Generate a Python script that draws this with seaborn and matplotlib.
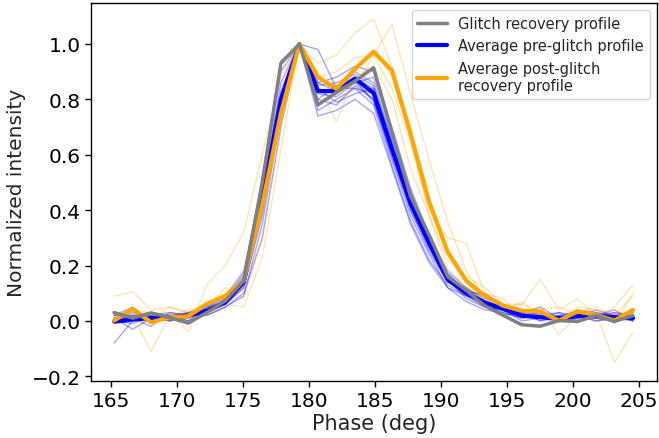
import matplotlib
matplotlib.use("Agg")
import matplotlib.pyplot as plt
import seaborn as sns
import pandas as pd

phase = [165.20, 166.61, 168.01, 169.42, 170.83, 172.23, 173.64, 175.04, 176.45, 177.86,
         179.26, 180.67, 182.08, 183.48, 184.89, 186.29, 187.70, 189.11, 190.51, 191.92,
         193.33, 194.73, 196.14, 197.54, 198.95, 200.36, 201.76, 203.17, 204.58]

glitch_recovery = [0.030, 0.010, 0.029, 0.012, -0.008, 0.030, 0.072, 0.145, 0.500, 0.930,
                   1.000, 0.780, 0.826, 0.866, 0.914, 0.680, 0.450, 0.310, 0.160, 0.110,
                   0.055, 0.020, -0.014, -0.019, 0.001, -0.002, 0.019, -0.002, 0.019]

avg_pre = [-0.002, 0.005, 0.010, 0.013, 0.019, 0.037, 0.067, 0.140, 0.440, 0.800,
           1.000, 0.830, 0.830, 0.875, 0.823, 0.620, 0.425, 0.280, 0.150, 0.100,
           0.067, 0.043, 0.019, 0.013, 0.010, 0.017, 0.019, 0.013, 0.010]

avg_post = [0.001, 0.043, -0.005, 0.013, 0.017, 0.060, 0.090, 0.146, 0.420, 0.750,
            1.000, 0.880, 0.838, 0.910, 0.972, 0.904, 0.675, 0.430, 0.250, 0.145,
            0.091, 0.055, 0.037, 0.034, 0.001, 0.034, 0.022, 0.001, 0.040]

pre_profiles = [
    [-0.08, 0.00, 0.02, 0.00, 0.02, 0.03, 0.06, 0.12, 0.38, 0.76, 1.0, 0.80, 0.78, 0.85, 0.80, 0.58, 0.38, 0.24, 0.12, 0.09, 0.06, 0.05, 0.03, 0.00, 0.01, 0.02, 0.03, 0.01, 0.00],
    [0.02, 0.05, 0.00, 0.02, 0.03, 0.05, 0.08, 0.16, 0.52, 0.94, 1.0, 0.76, 0.80, 0.84, 0.78, 0.56, 0.36, 0.22, 0.13, 0.09, 0.05, 0.04, 0.02, 0.01, 0.03, 0.00, 0.02, 0.03, 0.01],
    [0.01, -0.03, 0.01, 0.02, 0.00, 0.04, 0.07, 0.15, 0.47, 0.86, 1.0, 0.98, 0.84, 0.90, 0.86, 0.66, 0.47, 0.30, 0.17, 0.11, 0.07, 0.02, 0.03, 0.05, 0.01, 0.00, 0.01, 0.03, 0.02],
    [0.00, 0.01, -0.02, 0.03, 0.02, 0.02, 0.05, 0.10, 0.30, 0.70, 1.0, 0.86, 0.88, 0.92, 0.90, 0.70, 0.48, 0.31, 0.18, 0.12, 0.08, 0.06, 0.02, 0.01, 0.00, 0.03, 0.01, 0.00, 0.02],
    [0.03, 0.02, 0.03, 0.00, 0.01, 0.04, 0.06, 0.14, 0.45, 0.82, 1.0, 0.74, 0.76, 0.80, 0.75, 0.55, 0.35, 0.21, 0.12, 0.07, 0.04, 0.03, 0.01, 0.02, 0.03, 0.02, 0.00, 0.01, 0.03],
    [-0.01, 0.00, 0.02, 0.01, 0.03, 0.03, 0.08, 0.17, 0.48, 0.83, 1.0, 0.85, 0.86, 0.89, 0.85, 0.64, 0.44, 0.29, 0.16, 0.11, 0.09, 0.05, 0.04, 0.02, 0.01, 0.04, 0.03, 0.02, 0.00],
    [0.02, 0.03, 0.01, 0.02, 0.00, 0.05, 0.09, 0.18, 0.50, 0.90, 1.0, 0.82, 0.81, 0.86, 0.80, 0.60, 0.40, 0.26, 0.14, 0.10, 0.10, 0.06, 0.03, 0.00, 0.02, 0.01, 0.04, 0.02, 0.01],
    [0.00, -0.01, 0.02, 0.03, 0.02, 0.02, 0.05, 0.09, 0.35, 0.74, 1.0, 0.88, 0.84, 0.84, 0.82, 0.63, 0.43, 0.28, 0.16, 0.10, 0.06, 0.03, 0.01, 0.02, 0.00, 0.01, 0.02, 0.04, 0.00],
    [0.01, 0.02, 0.00, 0.01, 0.03, 0.04, 0.07, 0.13, 0.42, 0.79, 1.0, 0.80, 0.85, 0.88, 0.84, 0.65, 0.44, 0.27, 0.15, 0.08, 0.05, 0.04, 0.00, 0.01, 0.02, 0.03, 0.01, 0.00, 0.02],
    [0.02, 0.00, 0.01, 0.00, 0.02, 0.03, 0.06, 0.15, 0.46, 0.81, 1.0, 0.78, 0.82, 0.87, 0.79, 0.59, 0.40, 0.25, 0.14, 0.12, 0.07, 0.05, 0.02, 0.03, 0.01, 0.02, 0.00, 0.01, 0.02],
    [0.01, 0.01, 0.03, 0.02, 0.01, 0.05, 0.07, 0.14, 0.44, 0.80, 1.0, 0.84, 0.79, 0.82, 0.84, 0.62, 0.41, 0.27, 0.15, 0.10, 0.06, 0.04, 0.03, 0.02, 0.01, 0.00, 0.02, 0.01, 0.02],
    [0.00, 0.02, 0.01, 0.01, 0.02, 0.04, 0.06, 0.12, 0.40, 0.78, 1.0, 0.86, 0.83, 0.86, 0.88, 0.68, 0.46, 0.30, 0.17, 0.11, 0.07, 0.05, 0.02, 0.01, 0.00, 0.02, 0.01, 0.02, 0.03],
]

post_profiles = [
    [0.09, 0.105, 0.04, 0.05, 0.03, 0.07, 0.10, 0.13, 0.40, 0.78, 1.0, 0.93, 0.96, 1.04, 1.09, 0.92, 0.70, 0.42, 0.24, 0.14, 0.07, 0.04, 0.06, 0.03, 0.00, 0.05, 0.04, -0.01, 0.10],
    [0.03, 0.02, -0.11, 0.02, 0.04, 0.05, 0.12, 0.08, 0.30, 0.70, 1.0, 0.88, 0.90, 0.95, 0.96, 1.07, 0.82, 0.58, 0.36, 0.18, 0.09, 0.06, 0.02, 0.04, 0.05, 0.02, 0.03, -0.15, -0.04],
    [0.00, 0.01, 0.02, 0.03, -0.04, 0.13, 0.20, 0.32, 0.60, 0.88, 1.0, 0.85, 0.72, 0.88, 0.92, 0.80, 0.55, 0.38, 0.22, 0.16, 0.12, 0.06, 0.06, 0.15, 0.04, 0.08, 0.02, 0.05, 0.13],
    [0.02, 0.04, 0.03, 0.00, 0.01, 0.02, 0.06, 0.05, 0.23, 0.62, 1.0, 0.90, 0.80, 0.84, 0.96, 0.84, 0.64, 0.40, 0.30, 0.28, 0.10, 0.08, 0.01, 0.05, -0.05, 0.02, 0.00, 0.03, 0.03],
    [-0.01, 0.03, 0.01, 0.05, 0.03, 0.04, 0.07, 0.12, 0.45, 0.82, 1.0, 0.84, 0.82, 0.90, 0.98, 0.88, 0.66, 0.38, 0.19, 0.12, 0.08, 0.04, 0.07, 0.02, 0.00, 0.03, 0.05, 0.02, 0.09],
]

sns.set_theme(style="ticks")
plt.rcParams['font.family'] = ['DejaVu Sans']

fig = plt.figure(figsize=(6.59, 4.39), dpi=100)
ax = fig.add_axes([91 / 659, 57 / 439, 566 / 659, 378 / 439])

for prof in pre_profiles:
    sns.lineplot(x=phase, y=prof, ax=ax, color="blue", alpha=0.35, lw=1, zorder=1)
for prof in post_profiles:
    sns.lineplot(x=phase, y=prof, ax=ax, color="orange", alpha=0.3, lw=1, zorder=1)

sns.lineplot(x=phase, y=avg_pre, ax=ax, color="blue", lw=3, zorder=3,
             label="Average pre-glitch profile")
sns.lineplot(x=phase, y=avg_post, ax=ax, color="orange", lw=3, zorder=4,
             label="Average post-glitch\nrecovery profile")
sns.lineplot(x=phase, y=glitch_recovery, ax=ax, color="gray", lw=2.5, zorder=5,
             label="Glitch recovery profile")

handles, labels = ax.get_legend_handles_labels()
order = [2, 0, 1]
ax.legend([handles[i] for i in order], [labels[i] for i in order],
          loc="upper right", fontsize=10.5, frameon=True)

ax.set_xlim(163.45, 206.4)
ax.set_ylim(-0.217, 1.148)
ax.set_xticks([165, 170, 175, 180, 185, 190, 195, 200, 205])
ax.set_yticks([-0.2, 0.0, 0.2, 0.4, 0.6, 0.8, 1.0])
ax.tick_params(labelsize=14.5, direction="out", length=4, width=1, colors="black")
for s in ax.spines.values():
    s.set_color("black")
    s.set_linewidth(1)
ax.set_xlabel("Phase (deg)", fontsize=15, labelpad=2)
ax.set_ylabel("Normalized intensity", fontsize=14.5)

fig.savefig("out.png", dpi=100)
